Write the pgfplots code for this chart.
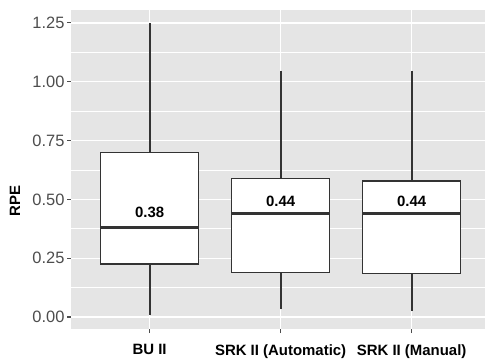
\documentclass[border=0pt]{standalone}
\usepackage{fontspec}
\setmainfont{Liberation Sans}
\usepackage{pgfplots}
\pgfplotsset{compat=1.18}
\usepgfplotslibrary{statistics}
\definecolor{panel}{HTML}{E5E5E5}
\definecolor{boxline}{HTML}{333333}
\definecolor{ticktext}{HTML}{4D4D4D}
\begin{document}
\begin{tikzpicture}
\useasboundingbox (0bp,0bp) rectangle (485bp,360bp);
\begin{axis}[
  at={(71bp,31bp)}, anchor=south west,
  scale only axis, width=414bp, height=319bp,
  xmin=0.4, xmax=3.56, ymin=-0.051, ymax=1.305,
  axis background/.style={fill=panel},
  axis line style={draw=none},
  xtick={1,2,3},
  xticklabels={BU II, SRK II (Automatic), SRK II (Manual)},
  ytick={0,0.25,0.5,0.75,1,1.25},
  minor ytick={0.125,0.375,0.625,0.875,1.125},
  xmajorgrids, ymajorgrids, yminorgrids,
  major grid style={white, line width=1.2bp},
  minor grid style={white, line width=0.6bp},
  tick pos=left, tick align=outside,
  major tick length=4bp, minor tick length=0pt,
  major tick style={ticktext, line width=1.1bp},
  yticklabel style={font=\fontsize{16.5}{16.5}\selectfont, text=ticktext, xshift=1bp,
    /pgf/number format/fixed, /pgf/number format/fixed zerofill,
    /pgf/number format/precision=2,
    /pgf/number format/assume math mode=true},
  xticklabel style={font=\fontsize{15}{15}\selectfont\bfseries, text=black, yshift=-8bp},
  boxplot/draw direction=y,
  boxplot/box extend=0.75,
  boxplot/draw/lower whisker/.code={%
    \draw[boxline, line width=1.8bp]
      (boxplot cs:\pgfplotsboxplotvalue{lower whisker}) --
      (boxplot cs:\pgfplotsboxplotvalue{lower quartile});},
  boxplot/draw/upper whisker/.code={%
    \draw[boxline, line width=1.8bp]
      (boxplot cs:\pgfplotsboxplotvalue{upper whisker}) --
      (boxplot cs:\pgfplotsboxplotvalue{upper quartile});},
  boxplot/every median/.style={line width=3bp},
  boxplot/every box/.style={draw=boxline, fill=white, line width=1.4bp},
]
\addplot+[boxplot prepared={draw position=1, lower whisker=0.01, lower quartile=0.225,
  median=0.38, upper quartile=0.70, upper whisker=1.25},
  draw=boxline, mark=none, solid, line width=1.4bp] coordinates {};
\addplot+[boxplot prepared={draw position=2, lower whisker=0.033, lower quartile=0.19,
  median=0.44, upper quartile=0.59, upper whisker=1.046},
  draw=boxline, mark=none, solid, line width=1.4bp] coordinates {};
\addplot+[boxplot prepared={draw position=3, lower whisker=0.025, lower quartile=0.184,
  median=0.44, upper quartile=0.578, upper whisker=1.046},
  draw=boxline, mark=none, solid, line width=1.4bp] coordinates {};
\node[font=\fontsize{15}{15}\selectfont\bfseries] at (axis cs:1,0.444) {0.38};
\node[font=\fontsize{15}{15}\selectfont\bfseries] at (axis cs:2,0.493) {0.44};
\node[font=\fontsize{15}{15}\selectfont\bfseries] at (axis cs:3,0.493) {0.44};
\end{axis}
\node[rotate=90, font=\fontsize{15}{15}\selectfont\bfseries] at (15bp,159bp) {RPE};
\end{tikzpicture}
\end{document}
